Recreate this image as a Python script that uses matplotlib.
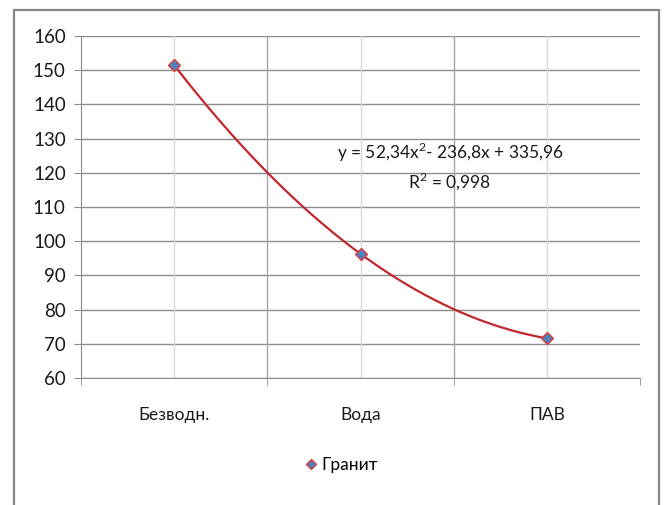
import numpy as np
import matplotlib
matplotlib.use("Agg")
import matplotlib.pyplot as plt
from matplotlib.patches import Rectangle

plt.rcParams['font.family'] = ['Lato', 'DejaVu Sans']
plt.rcParams['mathtext.fontset'] = 'custom'
plt.rcParams['mathtext.rm'] = 'Lato'

# Гранит: три состояния образца
categories = ["Безводн.", "Вода", "ПАВ"]
granite = [151.5, 96.3, 71.6]
series_name = "Гранит"
trend_eq = "y = 52,34x$^{\\mathrm{2}}$- 236,8x + 335,96"
trend_r2 = "R$^{\\mathrm{2}}$ = 0,998"
y_ticks = list(range(60, 161, 10))

x = np.arange(1, len(categories) + 1)

fig = plt.figure(figsize=(6.67, 5.05), dpi=100)
ax = fig.add_axes([81 / 667, 1 - 378 / 505, (640 - 81) / 667, (378 - 36) / 505])

# рамка области диаграммы
fig.patches.append(Rectangle((14 / 667, -0.05), (659 - 14) / 667, 1.05 - 10 / 505,
                             transform=fig.transFigure, fill=False,
                             edgecolor="#878787", linewidth=1.6))

# полиномиальная линия тренда 2-й степени
coef = np.polyfit(x, granite, 2)
xs = np.linspace(x[0], x[-1], 200)
ax.plot(xs, np.polyval(coef, xs), color="#C1272D", linewidth=1.6, zorder=3)

ax.plot(x, granite, linestyle="none", marker="D", markersize=6.5,
        markerfacecolor="#4F81BD", markeredgecolor="#E03A3A",
        markeredgewidth=1.0, zorder=4, label=series_name)

ax.set_xlim(0.5, len(categories) + 0.5)
ax.set_ylim(60, 160)
ax.set_yticks(y_ticks)
ax.set_xticks(x)
ax.set_xticklabels(categories)
ax.set_xticks(np.arange(0.5, len(categories) + 1), minor=True)

# сетка
for yv in y_ticks:
    ax.axhline(yv, color="#8C8C8C", linewidth=1.0, zorder=1)
for xv in x:
    ax.axvline(xv, color="#D9D9D9", linewidth=1.0, zorder=1)
for xv in np.arange(1.5, len(categories), 1.0):
    ax.axvline(xv, color="#A6A6A6", linewidth=1.0, zorder=1)

for side in ["top", "right"]:
    ax.spines[side].set_visible(False)
ax.spines["left"].set_color("#8C8C8C")
ax.spines["bottom"].set_color("#8C8C8C")

ax.tick_params(axis="y", direction="out", length=5, color="#8C8C8C",
               labelsize=13.5, labelcolor="#1a1a1a", pad=6)
ax.tick_params(axis="x", which="major", length=0, labelsize=12.5,
               labelcolor="#1a1a1a", pad=21)
ax.tick_params(axis="x", which="minor", direction="out", length=5,
               color="#8C8C8C")

# уравнение и R² линии тренда
ax.text(2.48, 126.0, trend_eq, ha="center", va="center",
        fontsize=12.5, color="#1a1a1a")
ax.text(2.48, 117.6, trend_r2, ha="center", va="center",
        fontsize=12.5, color="#1a1a1a")

fig.legend(handles=ax.get_lines()[1:], labels=[series_name],
           loc="center", bbox_to_anchor=(342 / 667, 1 - 465 / 505),
           frameon=False, fontsize=12.5, handlelength=0.6,
           handletextpad=0.3, markerscale=0.8)

fig.savefig("out.png", dpi=100)
